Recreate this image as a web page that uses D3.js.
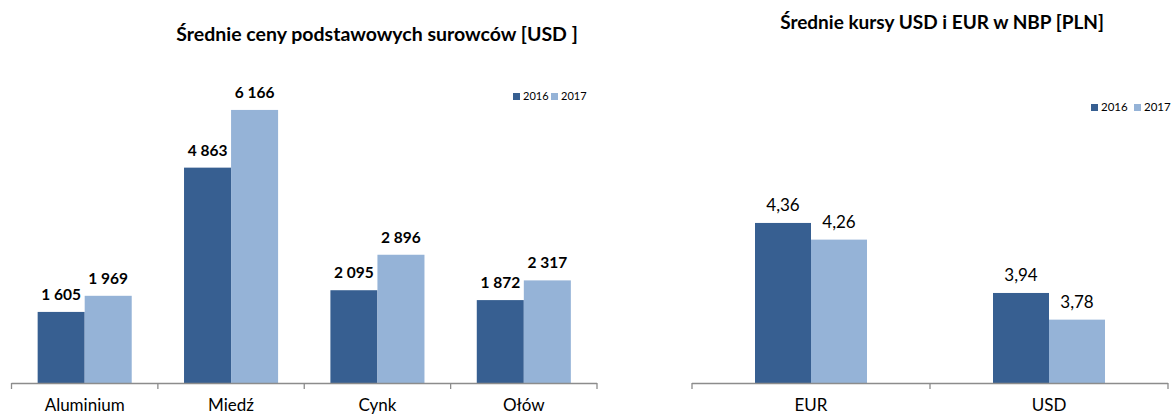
<!DOCTYPE html>
<html>
<head>
<meta charset="utf-8">
<script src="https://cdn.jsdelivr.net/npm/d3@7"></script>
<style>
  body { margin: 0; background: #fff; }
  text { font-family: Lato, "Noto Sans", sans-serif; fill: #000; }
</style>
</head>
<body>
<script>
// data
var years = ['2016', '2017'];
var metals = ['Aluminium', 'Miedź', 'Cynk', 'Ołów'];
var metals2016 = [1605, 4863, 2095, 1872];
var metals2017 = [1969, 6166, 2896, 2317];
var currencies = ['EUR', 'USD'];
var rates2016 = [4.36, 3.94];
var rates2017 = [4.26, 3.78];

var colors = ['#375f91', '#95b3d7'];

var svg = d3.select('body').append('svg')
            .attr('width', 1174)
            .attr('height', 414);

var drawChart = function(cfg){
  var g = svg.append('g');
  var rows = cfg.cats.map(function(c, i){
    return { cat: c, vals: [cfg.s1[i], cfg.s2[i]] };
  });

  var x0 = d3.scaleBand()
             .domain(cfg.cats)
             .range([cfg.left, cfg.right]);
  var x1 = d3.scaleBand()
             .domain(years)
             .range([0, x0.bandwidth()])
             .paddingOuter(cfg.pad);
  var y = d3.scaleLinear()
            .domain(cfg.domain)
            .range([cfg.base, cfg.top]);

  var groups = g.selectAll('g.cat')
                .data(rows)
                .enter()
                .append('g')
                .classed('cat', true)
                .attr('transform', function(d){ return 'translate(' + x0(d.cat) + ',0)'; });

  groups.selectAll('rect')
        .data(function(d){ return d.vals; })
        .enter()
        .append('rect')
        .attr('x', function(d, i){ return x1(years[i]); })
        .attr('y', function(d){ return y(d); })
        .attr('width', x1.bandwidth())
        .attr('height', function(d){ return cfg.base - y(d); })
        .attr('fill', function(d, i){ return colors[i]; });

  groups.selectAll('text.val')
        .data(function(d){ return d.vals; })
        .enter()
        .append('text')
        .classed('val', true)
        .attr('x', function(d, i){ return x1(years[i]) + x1.bandwidth() / 2; })
        .attr('y', function(d){ return y(d) - cfg.labelGap; })
        .attr('text-anchor', 'middle')
        .attr('font-size', cfg.labelSize)
        .attr('font-weight', cfg.labelWeight)
        .text(cfg.fmt);

  // axis line with ticks at band edges
  g.append('line')
   .attr('x1', cfg.left).attr('x2', cfg.right)
   .attr('y1', cfg.base + 0.5).attr('y2', cfg.base + 0.5)
   .attr('stroke', '#8c8c8c').attr('stroke-width', 1.3);
  var edges = cfg.cats.map(function(c){ return x0(c); }).concat([cfg.right]);
  g.selectAll('line.tick')
   .data(edges)
   .enter()
   .append('line')
   .classed('tick', true)
   .attr('x1', function(d){ return d; }).attr('x2', function(d){ return d; })
   .attr('y1', cfg.base).attr('y2', cfg.base + 6)
   .attr('stroke', '#8c8c8c').attr('stroke-width', 1.3);

  g.selectAll('text.cat')
   .data(cfg.cats)
   .enter()
   .append('text')
   .classed('cat', true)
   .attr('x', function(d){ return x0(d) + x0.bandwidth() / 2; })
   .attr('y', 411)
   .attr('text-anchor', 'middle')
   .attr('font-size', 17)
   .text(function(d){ return d; });

  g.append('text')
   .attr('x', cfg.titleX)
   .attr('y', cfg.titleY)
   .attr('text-anchor', 'middle')
   .attr('font-size', cfg.titleSize)
   .attr('font-weight', 'bold')
   .text(cfg.title);

  // legend
  var leg = g.selectAll('g.leg')
             .data(years)
             .enter()
             .append('g')
             .classed('leg', true)
             .attr('transform', function(d, i){ return 'translate(' + (cfg.legX + i * cfg.legStep) + ',' + cfg.legY + ')'; });
  leg.append('rect')
     .attr('x', 0).attr('y', -cfg.legBox)
     .attr('width', cfg.legBox).attr('height', cfg.legBox)
     .attr('fill', function(d, i){ return colors[i]; });
  leg.append('text')
     .attr('x', cfg.legBox + 3)
     .attr('y', 0)
     .attr('font-size', cfg.legSize)
     .text(function(d){ return d; });
};

var spaced = d3.formatLocale({ decimal: ',', thousands: ' ', grouping: [3], currency: ['', ''] });
var fmtInt = spaced.format(',d');
var fmtDec = spaced.format('.2f');

drawChart({
  cats: metals, s1: metals2016, s2: metals2017,
  left: 11.5, right: 597, pad: 0.556,
  domain: [0, 7000], base: 383, top: 73,
  labelGap: 12, labelSize: 15.5, labelWeight: 'bold', fmt: fmtInt,
  title: 'Średnie ceny podstawowych surowców [USD ]', titleX: 377, titleY: 41, titleSize: 19.5,
  legX: 513, legY: 100, legStep: 38, legBox: 7, legSize: 11
});

drawChart({
  cats: currencies, s1: rates2016, s2: rates2017,
  left: 692, right: 1168, pad: 1.125,
  domain: [3.4, 4.8], base: 383, top: 149.6,
  labelGap: 12, labelSize: 17, labelWeight: 'normal', fmt: fmtDec,
  title: 'Średnie kursy USD i EUR w NBP [PLN]', titleX: 942, titleY: 29, titleSize: 19,
  legX: 1091, legY: 111, legStep: 43, legBox: 7, legSize: 11.5
});
</script>
</body>
</html>
